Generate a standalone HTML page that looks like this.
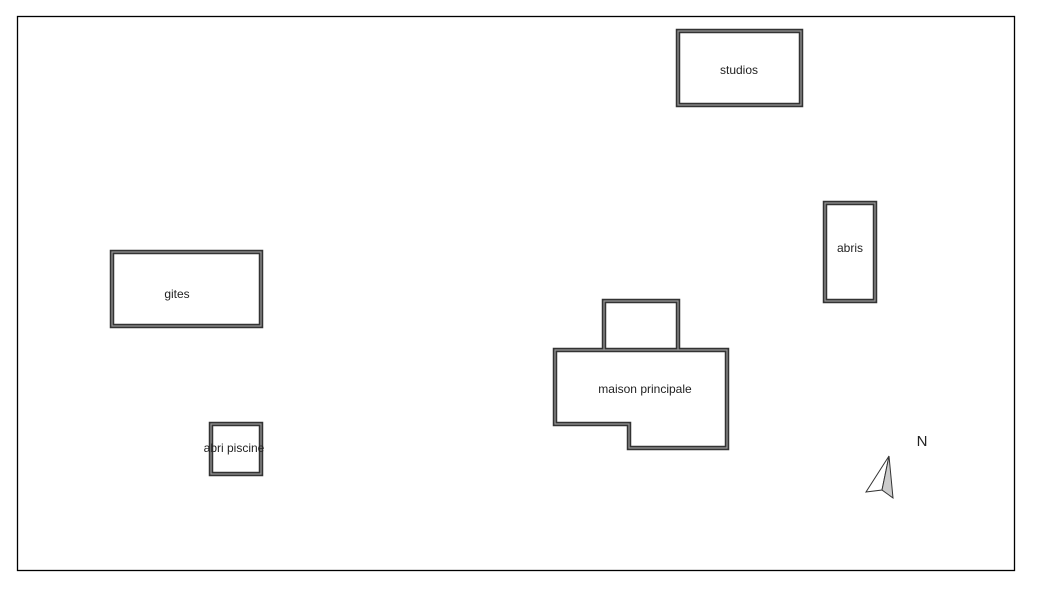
<!DOCTYPE html>
<html><head><style>html,body{margin:0;padding:0;background:#fff;width:1039px;height:605px;overflow:hidden}</style></head>
<body>
<svg width="1039" height="605" xmlns="http://www.w3.org/2000/svg" font-family="'Liberation Sans', sans-serif" font-size="12" fill="#222">
<rect x="17.5" y="16.5" width="997" height="554" fill="none" stroke="#000" stroke-width="1.3"/>
<g fill="none" stroke-linejoin="miter">
<g stroke="#333" stroke-width="4.5">
<rect x="678" y="31" width="123" height="74"/>
<rect x="825" y="203" width="50" height="98"/>
<rect x="112" y="252" width="149" height="74"/>
<rect x="211" y="424" width="50" height="50"/>
<polygon points="555,350 727,350 727,448 629,448 629,424 555,424"/>
<polyline points="604,350 604,301 678,301 678,350"/>
</g>
<g stroke="#999" stroke-width="1.2">
<rect x="678" y="31" width="123" height="74"/>
<rect x="825" y="203" width="50" height="98"/>
<rect x="112" y="252" width="149" height="74"/>
<rect x="211" y="424" width="50" height="50"/>
<polygon points="555,350 727,350 727,448 629,448 629,424 555,424"/>
<polyline points="604,350 604,301 678,301 678,350"/>
</g>
</g>
<polygon points="889,456 866,492 882,490" fill="#fff" stroke="#333" stroke-width="1"/>
<polygon points="889,456 882,490 893,498" fill="#ccc" stroke="#333" stroke-width="1"/>
<text x="739" y="74" text-anchor="middle">studios</text>
<text x="850" y="252" text-anchor="middle">abris</text>
<text x="177" y="298" text-anchor="middle">gites</text>
<text x="234" y="452" text-anchor="middle">abri piscine</text>
<text x="645" y="393" text-anchor="middle">maison principale</text>
<text x="922" y="446" text-anchor="middle" font-size="15">N</text>
</svg>
</body></html>
